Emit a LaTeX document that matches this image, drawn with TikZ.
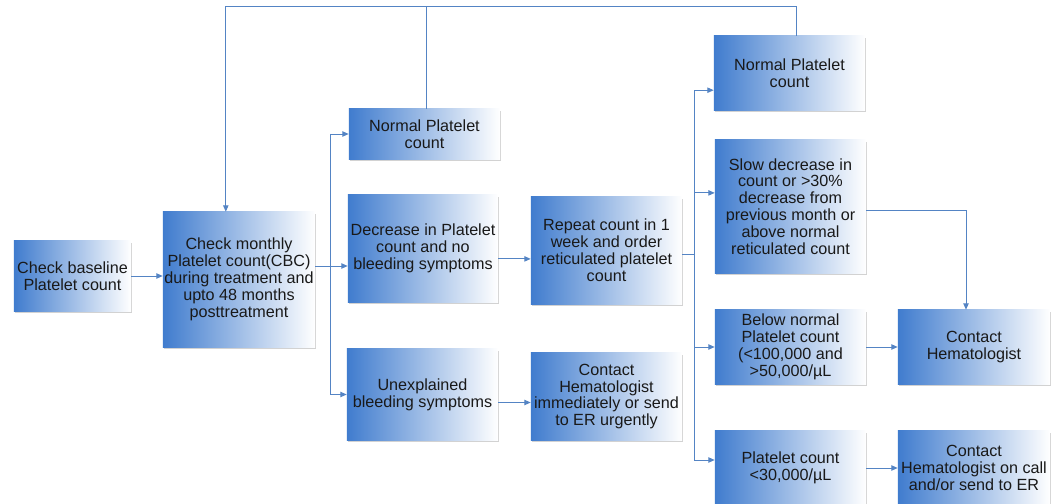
\documentclass[tikz,border=0pt]{standalone}
\usepackage{fontspec}
\setmainfont{Liberation Sans}
\usetikzlibrary{arrows.meta,shadows,calc}

\definecolor{boxblue}{RGB}{64,124,206}
\definecolor{linkblue}{RGB}{84,132,196}
\definecolor{textdark}{RGB}{25,25,25}

\tikzset{
  box/.style={left color=boxblue, right color=white, draw=none,
    align=center, inner sep=1pt, text=textdark,
    font=\fontsize{11.5}{12}\selectfont,
    drop shadow={shadow xshift=1pt, shadow yshift=-1.2pt, opacity=0.35, fill=gray}},
  link/.style={linkblue, line width=0.7pt},
  arr/.style={link, -{Triangle[length=4.5pt,width=3.8pt]}}
}

\begin{document}
\begin{tikzpicture}[x=0.025cm,y=-0.025cm]
\useasboundingbox (0,0) rectangle (1061,504);
\fill[white] (0,0) rectangle (1061,504);

% first checks
\node[box, minimum width=2.925cm, minimum height=1.75cm] (baseline) at (72.5,276)
  {Check baseline\\Platelet count};
\node[box, minimum width=3.8cm, minimum height=3.375cm] (monthly) at (239,279.5)
  {Check monthly\\Platelet count(CBC)\\during treatment and\\upto 48 months\\posttreatment};

% first branch
\node[box, minimum width=3.775cm, minimum height=1.25cm] (normalA) at (424.5,134)
  {Normal Platelet\\count};
\node[box, minimum width=3.75cm, minimum height=2.675cm] (decrease) at (423,248.5)
  {Decrease in Platelet\\count and no\\bleeding symptoms};
\node[box, minimum width=3.775cm, minimum height=2.275cm] (unexplained) at (422.5,394.5)
  {Unexplained\\bleeding symptoms};

% follow up
\node[box, minimum width=3.775cm, minimum height=2.675cm] (repeat) at (606.5,250.5)
  {Repeat count in 1\\week and order\\reticulated platelet\\count};
\node[box, minimum width=3.775cm, minimum height=2.175cm] (urgent) at (606.5,396.5)
  {Contact\\Hematologist\\immediately or send\\to ER urgently};

% second branch
\node[box, minimum width=3.775cm, minimum height=1.85cm] (normalB) at (789.5,73)
  {Normal Platelet\\count};
\node[box, minimum width=3.775cm, minimum height=3.325cm] (slow) at (790.5,206.5)
  {Slow decrease in\\count or >30\%\\decrease from\\previous month or\\above normal\\reticulated count};
\node[box, minimum width=3.775cm, minimum height=1.85cm] (below) at (790.5,347)
  {Below normal\\Platelet count\\(<100,000 and\\>50,000/µL};
\node[box, minimum width=3.775cm, minimum height=1.85cm] (low) at (790.5,468)
  {Platelet count\\<30,000/µL};

% contacts
\node[box, minimum width=3.8cm, minimum height=1.85cm] (hema) at (974,347)
  {Contact\\Hematologist};
\node[box, minimum width=3.8cm, minimum height=1.85cm] (oncall) at (974,468)
  {Contact\\Hematologist on call\\and/or send to ER};

% junctions and feedback line
\coordinate (j1) at (330,266);
\coordinate (j2) at (694,254);
\coordinate (top) at (0,6);

% connectors
\draw[arr] (baseline.east) -- (baseline.east -| monthly.west);
\draw[link] (monthly.east |- j1) -- (j1);
\draw[link] (j1 |- normalA) -- (j1 |- unexplained);
\draw[arr] (j1 |- normalA) -- (normalA.west);
\draw[arr] (j1) -- (j1 -| decrease.west);
\draw[arr] (j1 |- unexplained) -- (unexplained.west);
\draw[arr] ([yshift=-0.26cm]decrease.east) -- ([yshift=-0.26cm]decrease.east -| repeat.west);
\draw[arr] ([yshift=-0.2cm]unexplained.east) -- ([yshift=-0.2cm]unexplained.east -| urgent.west);

\draw[link] (repeat.east |- j2) -- (j2);
\draw[link] ([yshift=-0.43cm]normalB.west -| j2) -- ([yshift=0.2cm]low.west -| j2);
\draw[arr] ([yshift=-0.43cm]normalB.west -| j2) -- ([yshift=-0.43cm]normalB.west);
\draw[arr] ([yshift=0.34cm]slow.west -| j2) -- ([yshift=0.34cm]slow.west);
\draw[arr] (below.west -| j2) -- (below.west);
\draw[arr] ([yshift=0.2cm]low.west -| j2) -- ([yshift=0.2cm]low.west);
\draw[arr] (below.east) -- (below.east -| hema.west);
\draw[arr] (low.east) -- (low.east -| oncall.west);
\draw[arr] ([yshift=-0.11cm]slow.east) -| ([xshift=-0.2cm]hema.north);

% back to monthly check
\draw[arr] ([xshift=0.18cm]normalB.north) |- ([xshift=-0.33cm]monthly.north |- top)
  -- ([xshift=-0.33cm]monthly.north);
\draw[link] ([xshift=0.06cm]normalA.north) -- ([xshift=0.06cm]normalA.north |- top);
\end{tikzpicture}
\end{document}
